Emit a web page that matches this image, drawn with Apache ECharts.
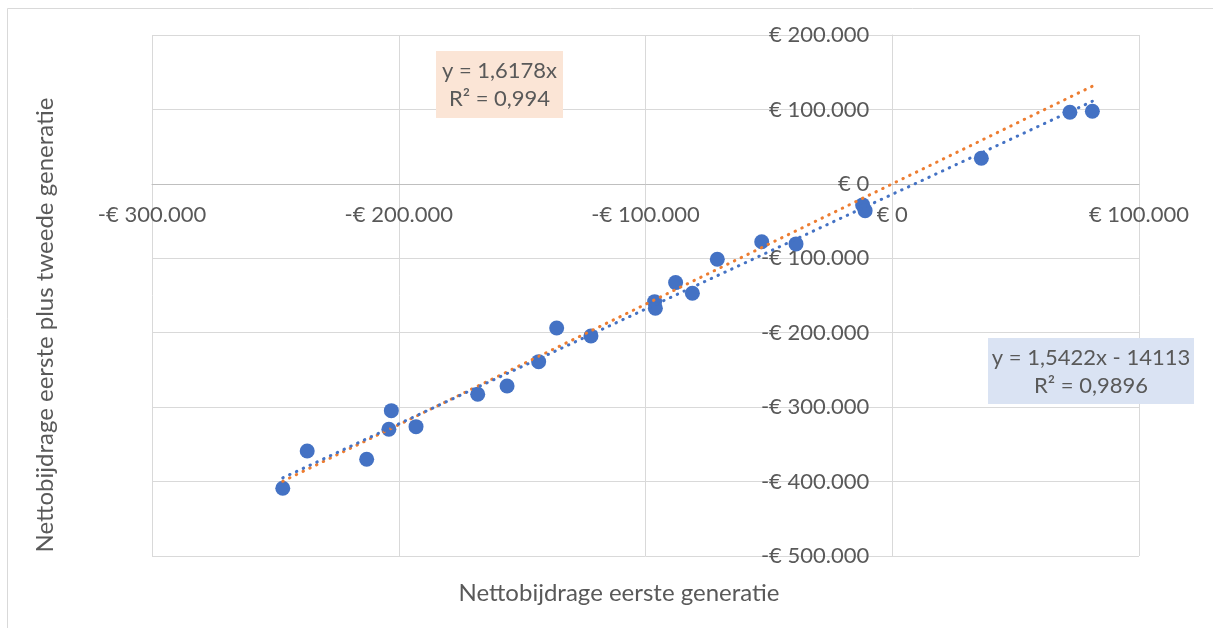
<!DOCTYPE html>
<html>
<head>
<meta charset="utf-8">
<script src="https://cdn.jsdelivr.net/npm/echarts@6/dist/echarts.min.js"></script>
<style>
html,body{margin:0;padding:0;background:#fff;}
#chart{width:1213px;height:628px;}
</style>
</head>
<body>
<div id="chart"></div>
<script>
// Data
const xValues = [-247000, -237100, -213000, -203000, -204000, -193000, -168000, -156100, -143300, -136000, -122100, -96300, -96000, -87800, -81000, -70900, -52900, -39000, -12000, -11000, 36100, 72000, 81100];
const yValues = [-409000, -358900, -370000, -304700, -329700, -326200, -282700, -271500, -238900, -193600, -204400, -158300, -167100, -132700, -147000, -101200, -77700, -80700, -28300, -36000, 34400, 96200, 97500];
// Trendline end points
const trendX = [-247000, 81100];
const orangeTrendY = [-399600, 131200];
const blueTrendY = [-395000, 111000];
const xTicks = [-300000, -200000, -100000, 0, 100000];
const yTicks = [-500000, -400000, -300000, -200000, -100000, 0, 100000, 200000];
const xTitle = 'Nettobijdrage eerste generatie';
const yTitle = 'Nettobijdrage eerste plus tweede generatie';
const orangeLabel = 'y = 1,6178x\nR² = 0,994';
const blueLabel = 'y = 1,5422x - 14113\nR² = 0,9896';

const FONT = 'Lato';
const TXT = '#595959';

function euro(v) {
  const a = Math.abs(v);
  const s = String(a).replace(/\B(?=(\d{3})+(?!\d))/g, '.');
  return (v < 0 ? '-' : '') + '€ ' + s;
}

const points = xValues.map((x, i) => [x, yValues[i]]);
const orangeLine = trendX.map((x, i) => [x, orangeTrendY[i]]);
const blueLine = trendX.map((x, i) => [x, blueTrendY[i]]);

// layout
const W = 1213, H = 628;
const G = {left: 152, top: 35, right: 74, bottom: 72};
const gw = W - G.left - G.right, gh = H - G.top - G.bottom;
const xMin = xTicks[0], xMax = xTicks[xTicks.length - 1];
const yMin = yTicks[0], yMax = yTicks[yTicks.length - 1];
// shift axes so they cross at zero (Excel style)
const xAxisOffset = -(gh * (0 - yMin) / (yMax - yMin));
const yAxisOffset = -(gw * (0 - xMin) / (xMax - xMin));

const chart = echarts.init(document.getElementById('chart'), null, {renderer: 'canvas'});
chart.setOption({
  animation: false,
  backgroundColor: '#ffffff',
  grid: Object.assign({containLabel: false}, G),
  xAxis: {
    type: 'value', position: 'bottom', offset: xAxisOffset,
    min: xMin, max: xMax, interval: 100000,
    axisLine: {show: true, onZero: false, lineStyle: {color: '#BFBFBF', width: 1}},
    axisTick: {show: false},
    axisLabel: {color: TXT, fontFamily: FONT, fontSize: 22, margin: 20, formatter: euro, showMinLabel: true, showMaxLabel: true},
    splitLine: {show: true, lineStyle: {color: '#D9D9D9', width: 1}}
  },
  yAxis: {
    type: 'value', position: 'left', offset: yAxisOffset,
    min: yMin, max: yMax, interval: 100000,
    axisLine: {show: true, onZero: false, lineStyle: {color: '#D9D9D9', width: 1}},
    axisTick: {show: false},
    axisLabel: {color: TXT, fontFamily: FONT, fontSize: 22, margin: 23, formatter: euro, showMinLabel: true, showMaxLabel: true},
    splitLine: {show: true, lineStyle: {color: '#D9D9D9', width: 1}}
  },
  series: [
    {
      type: 'scatter', data: points, symbol: 'circle', symbolSize: 15,
      itemStyle: {color: '#4472C4', opacity: 1}, z: 2
    },
    {
      type: 'line', data: orangeLine, symbol: 'none', z: 3,
      lineStyle: {color: '#ED7D31', width: 3, type: [0.5, 7], cap: 'round'}
    },
    {
      type: 'line', data: blueLine, symbol: 'none', z: 4,
      lineStyle: {color: '#4472C4', width: 3, type: [0.5, 7], cap: 'round'}
    }
  ],
  graphic: [
    {type: 'rect', shape: {x: 7.5, y: 8.5, width: 1400, height: 800}, style: {fill: null, stroke: '#D9D9D9', lineWidth: 1}, z: 0, silent: true},
    {type: 'text', x: 619, y: 593, style: {text: xTitle, fill: TXT, font: '24px ' + FONT, textAlign: 'center', textVerticalAlign: 'middle'}, z: 10},
    {type: 'text', x: 45, y: 325, rotation: Math.PI / 2, style: {text: yTitle, fill: TXT, font: '24px ' + FONT, textAlign: 'center', textVerticalAlign: 'middle'}, z: 10},
    {type: 'rect', shape: {x: 436, y: 51, width: 127, height: 67}, style: {fill: '#FBE5D6'}, z: 10},
    {type: 'text', x: 499.5, y: 85, style: {text: orangeLabel, fill: TXT, font: '22px ' + FONT, textAlign: 'center', textVerticalAlign: 'middle', lineHeight: 28}, z: 11},
    {type: 'rect', shape: {x: 988, y: 338, width: 206, height: 66}, style: {fill: '#DAE3F3'}, z: 10},
    {type: 'text', x: 1091, y: 371.5, style: {text: blueLabel, fill: TXT, font: '22px ' + FONT, textAlign: 'center', textVerticalAlign: 'middle', lineHeight: 28}, z: 11}
  ]
});
</script>
</body>
</html>
